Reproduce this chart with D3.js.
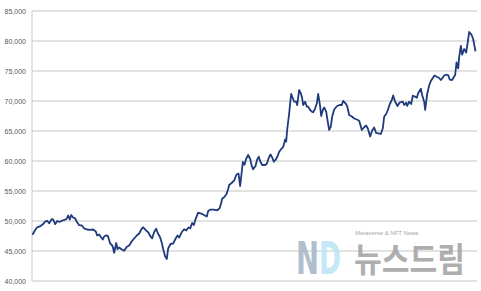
<!DOCTYPE html>
<html>
<head>
<meta charset="utf-8">
<script src="https://cdn.jsdelivr.net/npm/d3@7"></script>
<style>
  body { margin: 0; background: #fff; }
  svg { display: block; }
</style>
</head>
<body>
<div id="chart"></div>
<script>
// day offset from start of series
var days = [
  0, 8, 14, 22, 31, 38, 44, 50, 58, 62, 68, 74, 81, 89, 96, 102, 107, 112, 116, 122,
  127, 133, 140, 148, 155, 163, 173, 182, 190, 194, 200, 206, 211, 215, 221, 226, 233, 238, 241, 245,
  251, 255, 260, 267, 275, 283, 290, 297, 305, 313, 320, 328, 332, 341, 348, 354, 359, 365, 371, 376,
  383, 388, 392, 398, 403, 407, 414, 422, 430, 435, 440, 447, 455, 461, 468, 473, 479, 484, 490, 497,
  508, 518, 523, 527, 533, 543, 554, 561, 566, 569, 576, 582, 587, 590, 599, 605, 612, 618, 623, 627,
  631, 636, 641, 647, 653, 658, 662, 669, 674, 679, 683, 689, 698, 703, 709, 714, 719, 724, 729, 735,
  740, 748, 752, 758, 761, 764, 770, 773, 776, 781, 785, 791, 794, 800, 805, 809, 812, 818, 823, 827,
  833, 838, 842, 848, 853, 857, 863, 866, 871, 875, 881, 885, 890, 895, 899, 905, 913, 921, 928, 932,
  939, 944, 950, 958, 965, 973, 980, 988, 995, 1001, 1006, 1013, 1019, 1025, 1031, 1037, 1045, 1051, 1055, 1061,
  1066, 1072, 1078, 1082, 1088, 1095, 1101, 1111, 1115, 1121, 1124, 1130, 1136, 1141, 1148, 1153, 1157, 1165, 1169, 1175,
  1178, 1184, 1190, 1195, 1202, 1206, 1213, 1220, 1225, 1231, 1235, 1241, 1247, 1252, 1259, 1264, 1268, 1272, 1277, 1280,
  1285, 1289, 1295, 1301, 1306, 1310, 1317, 1322, 1329
];

var price = [
  47700, 48500, 48950, 49100, 49450, 49900, 50050, 49620, 50330, 50250, 49470, 50000, 49830, 50080, 50200, 50330, 50920, 50250, 51000, 50580,
  50500, 49880, 49300, 49250, 48780, 48580, 48530, 48580, 48250, 47580, 47750, 47250, 46920, 47420, 47620, 47530, 46250, 46000, 45670, 44700,
  46330, 45330, 45580, 45280, 45030, 45720, 45920, 46550, 47080, 47580, 47920, 48750, 48950, 48420, 48050, 47420, 47120, 48170, 48700, 47950,
  47250, 46330, 45330, 44080, 43670, 45420, 46170, 46250, 47120, 47580, 47250, 48080, 48620, 48420, 48920, 48780, 49670, 49330, 50450, 51380,
  51200, 50870, 50750, 51670, 51880, 51900, 51780, 52080, 53000, 53700, 54030, 54500, 55330, 56000, 56420, 56750, 57750, 57920, 55830, 57830,
  59830, 59380, 60380, 61000, 60330, 59130, 58620, 59170, 60250, 60720, 59950, 59330, 59330, 59550, 60550, 61080, 60580, 59880, 60170, 60750,
  61550, 62120, 62330, 63580, 63220, 65170, 67950, 69620, 71170, 70450, 69880, 69880, 69330, 71830, 71280, 70450, 69330, 69880, 69050, 69050,
  68500, 68220, 68120, 68780, 69620, 71170, 69050, 67500, 68500, 68920, 68220, 66830, 65170, 65750, 67380, 68580, 69120, 69330, 69330, 70030,
  69620, 69170, 67670, 67420, 67080, 66920, 66720, 65170, 65620, 65920, 65420, 64080, 65080, 65580, 64670, 64620, 64500, 65450, 67380, 67830,
  68500, 69500, 70170, 70920, 69880, 69170, 69720, 69880, 69330, 69720, 69170, 69880, 69500, 70880, 70720, 70550, 71280, 72050, 71000, 69880,
  68500, 71170, 72580, 73330, 73920, 74250, 74050, 73830, 73500, 73920, 74250, 74380, 74330, 73550, 73500, 74000, 74330, 76420, 75450, 77330,
  79170, 77720, 78670, 78080, 79880, 81500, 81050, 80330, 78280
];

var yTicks = [40000, 45000, 50000, 55000, 60000, 65000, 70000, 75000, 80000, 85000];

var margin = {top: 11, right: 4, bottom: 10, left: 32},
    width = 481,
    height = 291,
    plotLeft = margin.left,
    plotRight = width - margin.right,
    plotTop = margin.top,
    plotBottom = height - margin.bottom;

var svg = d3.select("#chart")
    .append("svg")
    .attr("width", width)
    .attr("height", height);

var x = d3.scaleLinear()
    .domain([0, 1329])
    .range([plotLeft + 0.5, 475.5]);

var y = d3.scaleLinear()
    .domain([40000, 85000])
    .range([plotBottom, plotTop]);

// gridlines
svg.append("g")
    .selectAll("line")
    .data(yTicks)
    .enter()
    .append("line")
    .attr("x1", plotLeft)
    .attr("x2", plotRight)
    .attr("y1", function(d) { return y(d); })
    .attr("y2", function(d) { return y(d); })
    .attr("stroke", "#d9d9d9")
    .attr("stroke-width", 1.5);

// y axis line
svg.append("line")
    .attr("x1", plotLeft)
    .attr("x2", plotLeft)
    .attr("y1", plotTop)
    .attr("y2", plotBottom)
    .attr("stroke", "#c8c8c8")
    .attr("stroke-width", 1);

// tick labels
svg.append("g")
    .selectAll("text")
    .data(yTicks)
    .enter()
    .append("text")
    .attr("x", 26)
    .attr("y", function(d) { return y(d) + 2.5; })
    .attr("text-anchor", "end")
    .attr("font-family", "Liberation Sans, Arial, sans-serif")
    .attr("font-size", "7px")
    .attr("fill", "#595959")
    .text(function(d) { return d3.format(",")(d); });

// watermark
var wm = svg.append("g").attr("opacity", 0.9);
wm.append("text")
    .attr("x", 296)
    .attr("y", 274)
    .attr("font-family", "DejaVu Sans, sans-serif")
    .attr("font-weight", "bold")
    .attr("font-size", "45px")
    .attr("textLength", 23)
    .attr("lengthAdjust", "spacingAndGlyphs")
    .attr("fill", "#a9b8c8")
    .text("N");
wm.append("text")
    .attr("x", 319)
    .attr("y", 274)
    .attr("font-family", "DejaVu Sans, sans-serif")
    .attr("font-weight", "bold")
    .attr("font-size", "45px")
    .attr("textLength", 22)
    .attr("lengthAdjust", "spacingAndGlyphs")
    .attr("fill", "#bfe6f6")
    .text("D");
wm.append("text")
    .attr("x", 355)
    .attr("y", 235)
    .attr("font-family", "Liberation Sans, Arial, sans-serif")
    .attr("font-size", "6px")
    .attr("fill", "#9a9a9a")
    .text("Metaverse & NFT News");
wm.append("text")
    .attr("x", 354)
    .attr("y", 272)
    .attr("font-family", "Noto Sans CJK KR, sans-serif")
    .attr("font-weight", "bold")
    .attr("font-size", "34px")
    .attr("textLength", 111)
    .attr("lengthAdjust", "spacingAndGlyphs")
    .attr("fill", "#a6a6a6")
    .text("뉴스드림");

// price line
var line = d3.line()
    .x(function(d, i) { return x(days[i]); })
    .y(function(d) { return y(d); });

svg.append("path")
    .datum(price)
    .attr("fill", "none")
    .attr("stroke", "#1f3a7d")
    .attr("stroke-width", 1.8)
    .attr("stroke-linejoin", "round")
    .attr("d", line);
</script>
</body>
</html>
